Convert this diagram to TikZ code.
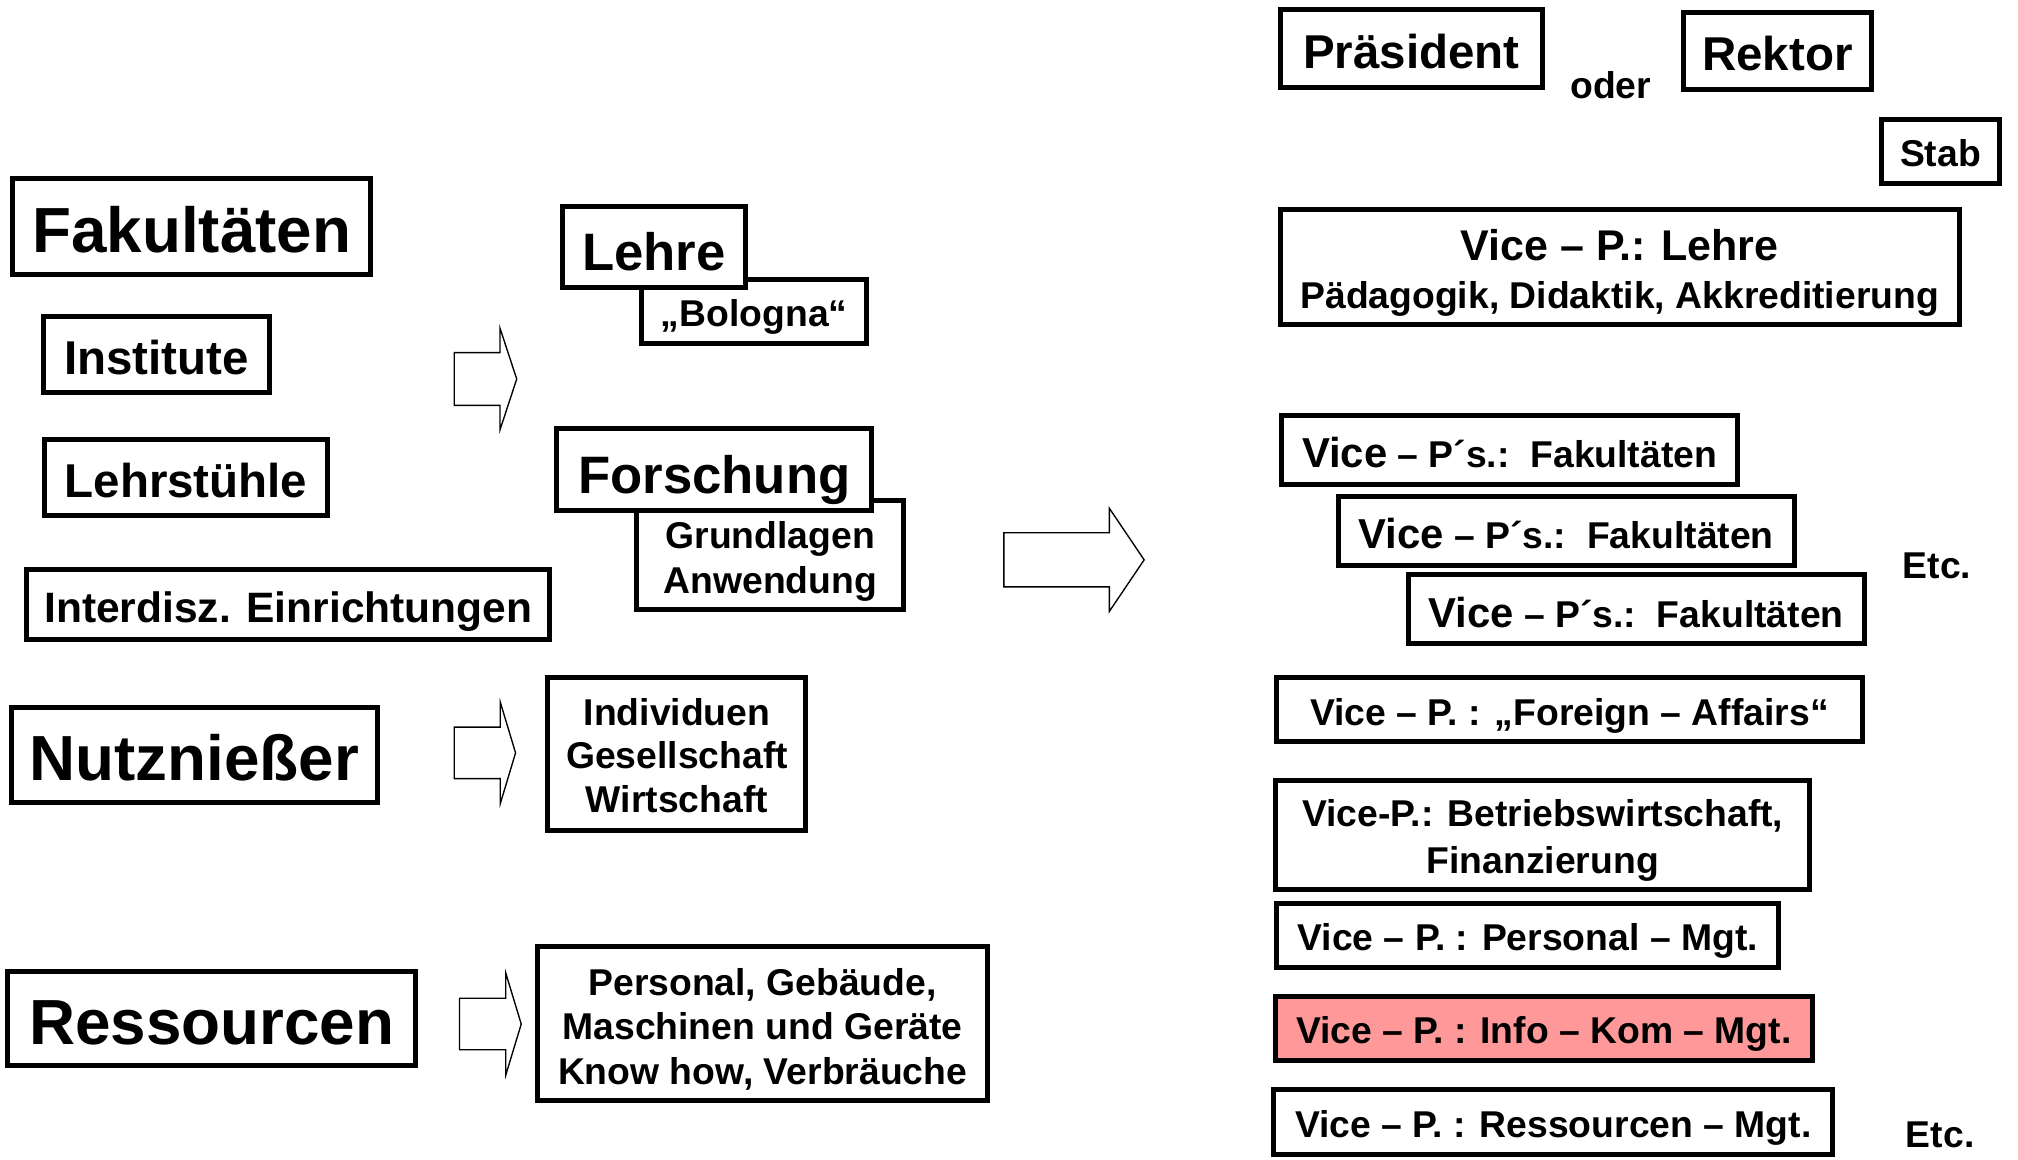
\documentclass[tikz,border=0pt]{standalone}
\usepackage{fontspec}
\setmainfont{Liberation Sans}
\usepackage{tikz}

\definecolor{infored}{RGB}{255,153,153}

\begin{document}
\begin{tikzpicture}[x=0.02cm,y=-0.02cm,
  box/.style={draw,rectangle,line width=2.2pt,fill=white,inner sep=0pt,align=center,text depth=0pt},
  big/.style={font=\fontsize{28.2}{32}\selectfont\bfseries,text height=23pt},
  head/.style={font=\fontsize{23.3}{27}\selectfont\bfseries,text height=20.7pt},
  mid/.style={font=\fontsize{21}{25}\selectfont\bfseries,text height=17.3pt},
  small/.style={font=\fontsize{16.5}{19.6}\selectfont\bfseries},
  oneline/.style={text height=13.7pt},
  pics/blockarrow/.style n args={4}{code={
    \draw[line width=0.6pt,fill=white] (0,-#3) -- (#1,-#3) -- (#1,-#4) -- (#2,0)
      -- (#1,#4) -- (#1,#3) -- (0,#3) -- cycle;}}]
  \useasboundingbox (0,0) rectangle (1568,901);

  % left column
  \node[box,big,minimum width=5.57cm,minimum height=1.49cm] (fak) at (149,176) {Fakultäten};
  \node[box,mid,minimum width=3.51cm,minimum height=1.19cm] (inst) at (121.5,275.5) {Institute};
  \node[box,mid,minimum width=4.39cm,minimum height=1.17cm] (lst) at (144.5,371) {Lehrstühle};
  \node[box,font=\fontsize{18.8}{22}\selectfont\bfseries,text height=15.3pt,
    minimum width=8.13cm,minimum height=1.09cm] (inter) at (224,470) {Interdisz. Einrichtungen};
  \node[box,big,minimum width=5.69cm,minimum height=1.47cm] (nutz) at (151,586.5) {Nutznießer};
  \node[box,big,minimum width=6.35cm,minimum height=1.47cm] (ress) at (164.5,791.5) {Ressourcen};

  % hollow arrows
  \pic at (353,294.5) {blockarrow={35.5}{48.5}{20.5}{39.5}};
  \pic at (353,585) {blockarrow={35.7}{47.6}{20}{39.5}};
  \pic at (357,795.7) {blockarrow={36}{48}{20}{39.6}};
  \pic at (780,435) {blockarrow={82}{109}{21}{40}};

  % middle column
  \node[box,small,oneline,minimum width=3.49cm,minimum height=0.99cm] (bol) at (586,242) {„Bologna“};
  \node[box,head,minimum width=2.85cm,minimum height=1.25cm] (lehre) at (508,192) {Lehre};
  \node[box,font=\fontsize{16.5}{19.9}\selectfont\bfseries,text height=34.6pt,
    minimum width=4.15cm,minimum height=1.69cm] (grund) at (598.5,431) {Grundlagen\\Anwendung};
  \node[box,head,minimum width=4.89cm,minimum height=1.28cm] (forsch) at (555,365) {Forschung};
  \node[box,font=\fontsize{16.5}{19.35}\selectfont\bfseries,text height=51.7pt,
    minimum width=4.01cm,minimum height=2.37cm] (indiv) at (526,586) {Individuen\\Gesellschaft\\Wirtschaft};
  \node[box,small,text height=53.4pt,minimum width=6.99cm,minimum height=2.39cm] (mittel) at (592.5,795.5) {Personal, Gebäude,\\Maschinen und Geräte\\Know how, Verbräuche};

  % right column
  \node[box,mid,minimum width=4.08cm,minimum height=1.21cm] (praes) at (1096.75,38) {Präsident};
  \node[small] (oder) at (1251.5,66) {oder};
  \node[box,mid,minimum width=2.93cm,minimum height=1.19cm] (rektor) at (1381,39.5) {Rektor};
  \node[box,small,oneline,minimum width=1.84cm,minimum height=0.99cm] (stab) at (1507.75,117.5) {Stab};
  \node[box,font=\fontsize{16.5}{21}\selectfont\bfseries,text height=36.3pt,
    minimum width=10.55cm,minimum height=1.79cm] (vlehre) at (1258.5,207.5)
    {{\fontsize{19}{21}\selectfont Vice – P.: Lehre}\\Pädagogik, Didaktik, Akkreditierung};

  \node[box,small,text height=15.8pt,minimum width=7.09cm,minimum height=1.07cm] (vfak1) at (1173,349.5) {{\fontsize{18.5}{20}\selectfont Vice} – P´s.:\ \ Fakultäten};
  \node[box,small,text height=15.8pt,minimum width=7.09cm,minimum height=1.07cm] (vfak2) at (1217,412.5) {{\fontsize{18.5}{20}\selectfont Vice} – P´s.:\ \ Fakultäten};
  \node[box,small,text height=15.8pt,minimum width=7.09cm,minimum height=1.07cm] (vfak3) at (1271.25,473.5) {{\fontsize{18.5}{20}\selectfont Vice} – P´s.:\ \ Fakultäten};
  \node[small] (etc1) at (1505,440) {Etc.};

  \node[box,small,oneline,minimum width=9.11cm,minimum height=0.99cm] (vausl) at (1219.5,551.5) {Vice – P. : „Foreign – Affairs“};
  \node[box,font=\fontsize{16.5}{20.5}\selectfont\bfseries,text height=33.6pt,
    minimum width=8.3cm,minimum height=1.69cm] (vbw) at (1198.75,648.9) {Vice-P.: Betriebswirtschaft,\\Finanzierung};
  \node[box,small,oneline,minimum width=7.81cm,minimum height=1cm] (vpers) at (1187,726.85) {Vice – P. : Personal – Mgt.};
  \node[box,small,oneline,fill=infored,minimum width=8.35cm,minimum height=1cm] (vikm) at (1199.5,799.15) {Vice – P. : Info – Kom – Mgt.};
  \node[box,small,oneline,minimum width=8.69cm,minimum height=1cm] (vress) at (1207,871.85) {Vice – P. : Ressourcen – Mgt.};
  \node[small] (etc2) at (1507.5,882) {Etc.};
\end{tikzpicture}
\end{document}
